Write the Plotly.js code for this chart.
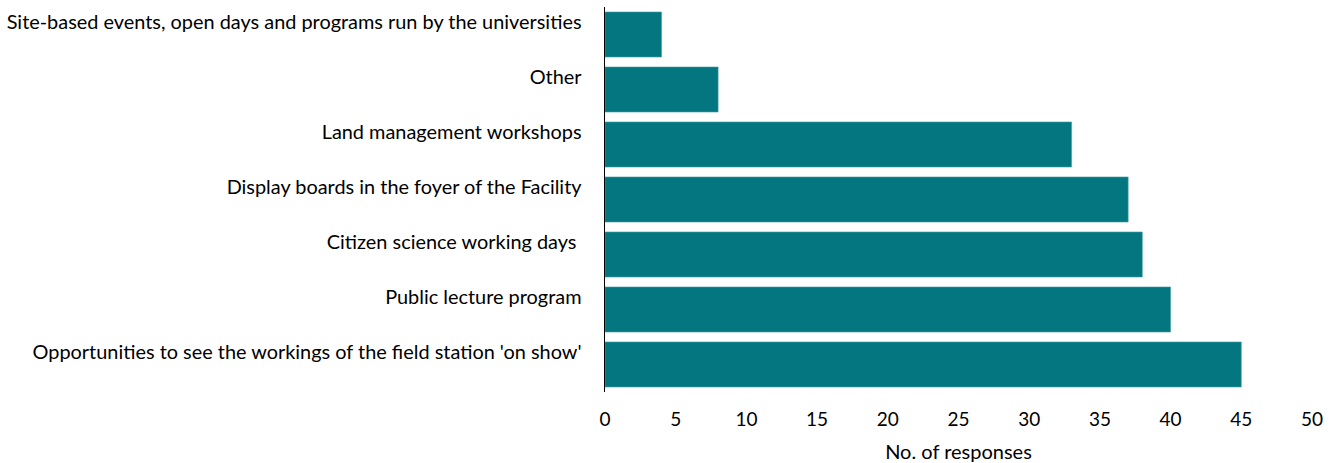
<!DOCTYPE html>
<html>
<head>
<meta charset="utf-8">
<script src="https://cdn.plot.ly/plotly-3.0.1.min.js"></script>
<style>html,body{margin:0;padding:0;background:#fff;}#chart{width:1339px;height:463px;}</style>
</head>
<body>
<div id="chart"></div>
<script>
const categories = [
  "Site-based events, open days and programs run by the universities",
  "Other",
  "Land management workshops",
  "Display boards in the foyer of the Facility",
  "Citizen science working days\u00a0",
  "Public lecture program",
  "Opportunities to see the workings of the field station 'on show'"
];
const responses = [4, 8, 33, 37, 38, 40, 45];
const xTickValues = [0, 5, 10, 15, 20, 25, 30, 35, 40, 45, 50];

const fontFamily = "Lato, 'Open Sans', sans-serif";
const trace = {
  type: 'bar',
  orientation: 'h',
  y: categories,
  x: responses,
  marker: {color: '#04767F', line: {color: '#4FA3A9', width: 0.6}},
  hoverinfo: 'x+y'
};
const layout = {
  width: 1339, height: 463,
  margin: {l: 605, r: 27, t: 7, b: 71},
  paper_bgcolor: '#fff', plot_bgcolor: '#fff',
  bargap: 0.18,
  showlegend: false,
  font: {family: fontFamily, size: 20, color: '#000'},
  xaxis: {
    range: [0, 50], tickvals: xTickValues, ticktext: xTickValues.map(String),
    showgrid: false, zeroline: false, showline: false, ticks: '',
    ticklabelstandoff: 14,
    tickfont: {family: fontFamily, size: 19, color: '#000'},
    title: {text: 'No. of responses', font: {family: fontFamily, size: 20, color: '#000'}, standoff: 16}
  },
  yaxis: {
    autorange: 'reversed', type: 'category',
    showgrid: false, zeroline: false, showline: true, linecolor: '#000', linewidth: 1.5,
    ticks: '', ticklabelstandoff: 18, ticklabelshift: 12,
    tickfont: {family: fontFamily, size: 19.9, color: '#000'}
  }
};
Plotly.newPlot('chart', [trace], layout, {displayModeBar: false, staticPlot: true});
</script>
</body>
</html>
